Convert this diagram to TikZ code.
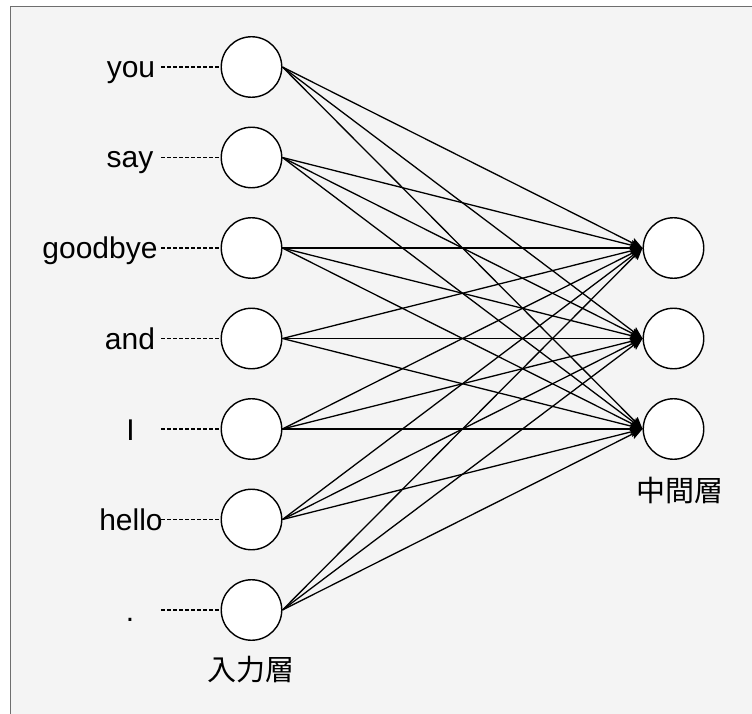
\documentclass[tikz,border=0pt]{standalone}
\usepackage{fontspec}
\setmainfont{Liberation Sans}
\newfontfamily\cjk{Noto Sans CJK JP}
\usetikzlibrary{arrows.meta}
\definecolor{panel}{HTML}{F4F4F4}
\definecolor{frame}{HTML}{6E6E6E}
\tikzset{
  neuron/.style={circle, draw=black, fill=white, line width=1.4pt, minimum size=60.5pt, inner sep=0pt},
  word/.style={anchor=base, font=\fontsize{30pt}{32pt}\selectfont, inner sep=0pt},
  layername/.style={font=\fontsize{29pt}{32pt}\selectfont\cjk, inner sep=0pt},
  link/.style={line width=1.3pt, -{Stealth[length=12pt,width=10pt,inset=2pt]}},
  tie/.style={line width=1.3pt, dash pattern=on 3.5pt off 2.5pt}
}
\begin{document}
\begin{tikzpicture}[x=1pt, y=-1pt]
  \useasboundingbox (0,0) rectangle (752,714);
  % panel with its top and left edges inside the page
  \fill[white] (0,0) rectangle (752,714);
  \fill[panel] (10.5,6.5) rectangle (760,720);
  \draw[frame, line width=1.5pt] (10.5,720) -- (10.5,6.5) -- (760,6.5);

  % input layer
  \foreach \i/\y in {1/67, 2/157.5, 3/248, 4/338.5, 5/429, 6/519.5, 7/610}
    \node[neuron] (in\i) at (251.5,\y) {};
  % hidden layer
  \foreach \j/\y in {1/248, 2/338.5, 3/429}
    \node[neuron] (mid\j) at (673.5,\y) {};

  % word labels
  \node[word] (w1) at (131,77.5) {you};
  \node[word] (w2) at (130,168) {say};
  \node[word] (w3) at (100,258.5) {goodbye};
  \node[word] (w4) at (130,349) {and};
  \node[word] (w5) at (130.5,440) {I};
  \node[word] (w6) at (131,530) {hello};
  \node[word] (w7) at (130,621) {.};

  % dashed ties from words to inputs
  \foreach \i/\y in {1/67, 2/157.5, 3/248, 4/338.5, 5/429, 6/519.5, 7/610} {
    \coordinate (t\i) at (161,\y);
    \draw[tie] (t\i) -- (in\i.west);
  }

  % full connections
  \foreach \i in {1,...,7}
    \foreach \j in {1,2,3}
      \draw[link] (in\i.east) -- (mid\j.west);

  % layer names
  \node[layername] (lin) at (251,670) {入力層};
  \node[layername] (lmid) at (680,490) {中間層};
\end{tikzpicture}
\end{document}
